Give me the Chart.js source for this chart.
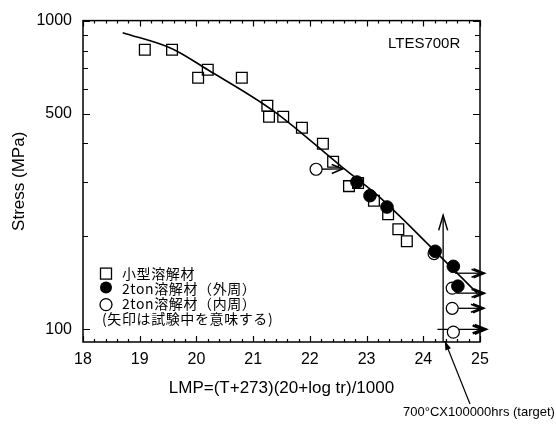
<!DOCTYPE html>
<html><head><meta charset="utf-8">
<script src="https://cdn.jsdelivr.net/npm/chart.js@4.4.0/dist/chart.umd.min.js"></script>
<style>html,body{margin:0;padding:0;background:#fff;}</style>
</head><body>
<canvas id="c" width="556" height="430"></canvas>
<script>
// ---- data ----
const squareLMP    = [19.09, 19.57, 20.03, 20.20, 20.80, 21.25, 21.28, 21.53, 21.86, 22.23, 22.41, 22.69, 22.85, 23.13, 23.38, 23.56, 23.71];
const squareStress = [805, 805, 653, 693, 653, 530, 488, 488, 450, 399, 349, 291, 298, 261, 236, 211, 193];
const outerLMP     = [22.83, 23.06, 23.36, 24.21, 24.53, 24.61];
const outerStress  = [300, 271, 249, 179, 160, 138];
const innerLMP     = [22.11, 24.19, 24.51, 24.51, 24.53];
const innerStress  = [330, 176, 136, 117, 98];
const fitLMP       = [18.70, 19.57, 20.20, 21.35, 22.59, 23.19, 24.17, 24.95];
const fitStress    = [914, 811, 693, 511, 333, 272, 182, 131];
// running tests (arrows): [fromLMP, fromStress, toLMP, toStress]
const runArrows = [
  [22.11, 330, 22.58, 331],
  [24.56, 152, 25.08, 152],
  [24.58, 131, 25.08, 131],
  [24.51, 117, 25.07, 117],
  [24.25, 100, 25.10, 100]
];
const targetLMP = 24.35;
const targetArrowTop = 234;
const pointerLMP = 24.38;
const xTickLabels = [18, 19, 20, 21, 22, 23, 24, 25];
const yTickLabels = [100, 500, 1000];
const yMinorTicks = [200, 300, 400, 600, 700, 800, 900];
const legendLabels = ['小型溶解材', '2ton溶解材（外周）', '2ton溶解材（内周）', '(矢印は試験中を意味する)'];
const xTitle = 'LMP=(T+273)(20+log tr)/1000';
const yTitle = 'Stress (MPa)';
const materialLabel = 'LTES700R';
const targetLabel = '700°CX100000hrs (target)';

const SANS = '"Liberation Sans", Arial, sans-serif';
const JP = '"Noto Sans CJK JP", sans-serif';

function pts(xs, ys){ return xs.map((x,i)=>({x, y: ys[i]})); }

function arrowHead(ctx, x0, y0, x1, y1, len, half){
  const a = Math.atan2(y1-y0, x1-x0);
  ctx.beginPath();
  ctx.moveTo(x1 - len*Math.cos(a) + half*Math.sin(a), y1 - len*Math.sin(a) - half*Math.cos(a));
  ctx.lineTo(x1, y1);
  ctx.lineTo(x1 - len*Math.cos(a) - half*Math.sin(a), y1 - len*Math.sin(a) + half*Math.cos(a));
  ctx.stroke();
}

const arrowsPlugin = {
  id: 'arrows',
  beforeDatasetsDraw(chart){
    const {ctx, chartArea:a, scales:{x, y}} = chart;
    ctx.save();
    ctx.strokeStyle = '#000';
    ctx.lineWidth = 1.3;
    runArrows.forEach((r, i) => {
      const x0 = x.getPixelForValue(r[0]), y0 = y.getPixelForValue(r[1]);
      const x1 = x.getPixelForValue(r[2]), y1 = y.getPixelForValue(r[3]);
      ctx.beginPath(); ctx.moveTo(x0, y0); ctx.lineTo(x1, y1); ctx.stroke();
      ctx.lineWidth = (i === runArrows.length - 1) ? 2.4 : 1.6;
      arrowHead(ctx, x0, y0, x1, y1, 11, 4.5);
      if (i > 0) arrowHead(ctx, x0, y0, x1 - 3, y1, 10, 4);
      ctx.lineWidth = 1.3;
    });
    // vertical target arrow
    const tx = x.getPixelForValue(targetLMP);
    const ty = y.getPixelForValue(targetArrowTop);
    ctx.beginPath(); ctx.moveTo(tx, a.bottom); ctx.lineTo(tx, ty); ctx.stroke();
    ctx.lineWidth = 1.5;
    arrowHead(ctx, tx, a.bottom, tx, ty, 15, 4.5);
    ctx.restore();
  }
};

const framePlugin = {
  id: 'frame',
  afterDatasetsDraw(chart){
    const {ctx, chartArea:a, scales:{x, y}} = chart;
    ctx.save();
    ctx.strokeStyle = '#000';
    ctx.lineWidth = 1.5;
    ctx.strokeRect(a.left, a.top, a.right - a.left, a.bottom - a.top);
    ctx.lineWidth = 1.2;
    ctx.beginPath();
    for (let k = 0; k <= 35; k++) {
      const v = 18 + k * 0.2;
      const px = Math.round(x.getPixelForValue(v)) + 0.5;
      const len = (k % 5 === 0) ? 6 : 3;
      ctx.moveTo(px, a.bottom); ctx.lineTo(px, a.bottom - len);
      ctx.moveTo(px, a.top); ctx.lineTo(px, a.top + len);
    }
    yTickLabels.concat(yMinorTicks).forEach(v => {
      const py = Math.round(y.getPixelForValue(v)) + 0.5;
      const len = yTickLabels.includes(v) ? 7 : 5;
      ctx.moveTo(a.left, py); ctx.lineTo(a.left + len, py);
      ctx.moveTo(a.right, py); ctx.lineTo(a.right - len, py);
    });
    ctx.stroke();

    // material label
    ctx.fillStyle = '#000';
    ctx.font = '15px ' + SANS;
    ctx.textBaseline = 'middle';
    ctx.textAlign = 'left';
    ctx.fillText(materialLabel, a.left + 305, a.top + 23);

    // legend
    const lx = a.left + 23, ly = a.top + 253, step = 15;
    ctx.lineWidth = 1.3;
    ctx.strokeRect(lx - 5.5, ly - 5.5, 11, 11);
    ctx.beginPath(); ctx.arc(lx, ly + step - 1, 6, 0, Math.PI*2); ctx.fill();
    ctx.beginPath(); ctx.arc(lx, ly + 2*step + 1, 6, 0, Math.PI*2); ctx.stroke();
    ctx.font = '14px ' + JP;
    ctx.letterSpacing = '0.6px';
    ctx.fillText(legendLabels[0], lx + 16, ly);
    ctx.fillText(legendLabels[1], lx + 16, ly + step);
    ctx.fillText(legendLabels[2], lx + 16, ly + 2*step);
    ctx.fillText(legendLabels[3], lx - 4, ly + 3*step);
    ctx.letterSpacing = '0px';

    // target pointer
    ctx.font = '13px ' + SANS;
    ctx.fillText(targetLabel, 403, 412);
    const px = x.getPixelForValue(pointerLMP), py = a.bottom - 1;
    const qx = 470, qy = 404;
    ctx.lineWidth = 1.2;
    ctx.beginPath(); ctx.moveTo(qx, qy); ctx.lineTo(px, py); ctx.stroke();
    const ang = Math.atan2(py - qy, px - qx);
    ctx.beginPath();
    ctx.moveTo(px, py);
    ctx.lineTo(px - 9*Math.cos(ang) + 3*Math.sin(ang), py - 9*Math.sin(ang) - 3*Math.cos(ang));
    ctx.lineTo(px - 9*Math.cos(ang) - 3*Math.sin(ang), py - 9*Math.sin(ang) + 3*Math.cos(ang));
    ctx.closePath(); ctx.fill();
    ctx.restore();
  }
};

new Chart(document.getElementById('c'), {
  type: 'scatter',
  data: {
    datasets: [
      { label: 'fit', data: pts(fitLMP, fitStress), showLine: true, pointRadius: 0,
        borderColor: '#000', borderWidth: 1.6, cubicInterpolationMode: 'monotone', order: 4 },
      { label: legendLabels[0], data: pts(squareLMP, squareStress), pointStyle: 'rect', pointRadius: 7.6,
        backgroundColor: 'rgba(0,0,0,0)', borderColor: '#000', borderWidth: 1.3, order: 3 },
      { label: legendLabels[2], data: pts(innerLMP, innerStress), pointStyle: 'circle', pointRadius: 6,
        backgroundColor: '#fff', borderColor: '#000', borderWidth: 1.2, order: 2 },
      { label: legendLabels[1], data: pts(outerLMP, outerStress), pointStyle: 'circle', pointRadius: 6.3,
        backgroundColor: '#000', borderColor: '#000', borderWidth: 1, order: 1 }
    ]
  },
  options: {
    responsive: false, animation: false, devicePixelRatio: 1,
    layout: { padding: { left: 0, right: 76, top: 20, bottom: 0 } },
    plugins: { legend: { display: false }, tooltip: { enabled: false } },
    scales: {
      x: {
        type: 'linear', min: 18, max: 25,
        afterFit: s => { s.height = 88; },
        afterBuildTicks: s => { s.ticks = xTickLabels.map(v => ({ value: v })); },
        grid: { display: false, drawTicks: false }, border: { display: false },
        ticks: { padding: 8, color: '#000', font: { family: SANS, size: 16 }, callback: v => String(v) },
        title: { display: true, text: xTitle, color: '#000', font: { family: SANS, size: 17 }, padding: { top: 0, bottom: 31 } }
      },
      y: {
        type: 'logarithmic', min: 91, max: 1000,
        afterFit: s => { s.width = 83; },
        afterBuildTicks: s => { s.ticks = yTickLabels.map(v => ({ value: v })); },
        grid: { display: false, drawTicks: false }, border: { display: false },
        ticks: { padding: 11, color: '#000', font: { family: SANS, size: 16 }, callback: v => String(v) },
        title: { display: true, text: yTitle, color: '#000', font: { family: SANS, size: 17 }, padding: { top: 9, bottom: 0 } }
      }
    }
  },
  plugins: [arrowsPlugin, framePlugin]
});
</script>
</body></html>
